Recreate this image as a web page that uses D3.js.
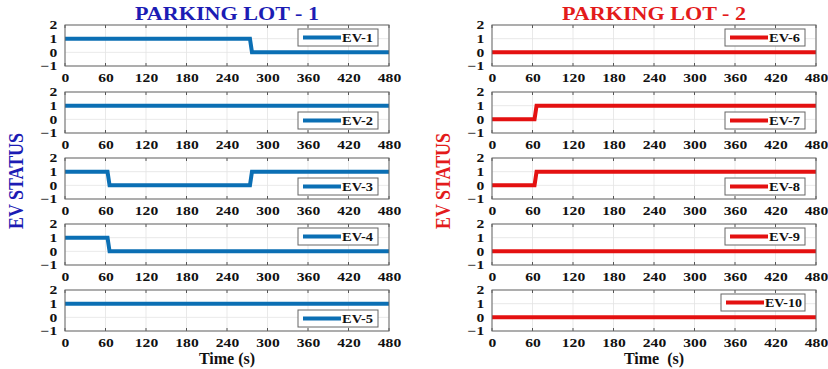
<!DOCTYPE html>
<html>
<head>
<meta charset="utf-8">
<script src="https://cdn.jsdelivr.net/npm/d3@7/dist/d3.min.js"></script>
<style>
  body { margin: 0; background: #fff; }
  text { font-family: "Liberation Serif", "Times New Roman", serif; font-weight: bold; }
</style>
</head>
<body>
<svg id="mainsvg" width="828" height="369"></svg>
<script>
  // time ticks and status ticks
  const timeTicks = [0, 60, 120, 180, 240, 300, 360, 420, 480];
  const statusTicks = [-1, 0, 1, 2];

  // parking lot 1 : [time, status] points
  const lot1Names = ['EV-1', 'EV-2', 'EV-3', 'EV-4', 'EV-5'];
  const lot1Series = [
    [[0, 1], [274, 1], [277, 0], [480, 0]],
    [[0, 1], [480, 1]],
    [[0, 1], [63, 1], [66, 0], [274, 0], [277, 1], [480, 1]],
    [[0, 1], [63, 1], [66, 0], [480, 0]],
    [[0, 1], [480, 1]]
  ];
  const lot1LegendPos = ['top', 'bottom', 'bottom', 'top', 'bottom'];

  // parking lot 2
  const lot2Names = ['EV-6', 'EV-7', 'EV-8', 'EV-9', 'EV-10'];
  const lot2Series = [
    [[0, 0], [480, 0]],
    [[0, 0], [63, 0], [66, 1], [480, 1]],
    [[0, 0], [63, 0], [66, 1], [480, 1]],
    [[0, 0], [480, 0]],
    [[0, 0], [480, 0]]
  ];
  const lot2LegendPos = ['top', 'bottom', 'bottom', 'top', 'top'];

  const svg = d3.select('#mainsvg');
  const panelW = 324, panelH = 41;
  const panelTops = [25, 92, 158, 224, 290];

  const x = d3.scaleLinear().domain([0, 480]).range([0, panelW]);
  const y = d3.scaleLinear().domain([-1, 2]).range([panelH, 0]);
  const line = d3.line().x(d => x(d[0])).y(d => y(d[1]));

  function drawLot(left, names, series, legendPos, color, title, titleColor, timeLabel) {
    svg.append('text')
      .attr('x', left + panelW / 2).attr('y', 20)
      .attr('text-anchor', 'middle').attr('font-size', 18)
      .attr('textLength', 184).attr('lengthAdjust', 'spacingAndGlyphs')
      .attr('fill', titleColor).text(title);

    svg.append('text')
      .attr('transform', `translate(${left - 42},181) rotate(-90)`)
      .attr('text-anchor', 'middle').attr('font-size', 21)
      .attr('textLength', 96).attr('lengthAdjust', 'spacingAndGlyphs')
      .attr('fill', titleColor).text('EV STATUS');

    names.forEach((name, i) => {
      const g = svg.append('g').attr('transform', `translate(${left},${panelTops[i]})`);

      // grid
      g.selectAll('.gx').data(timeTicks).join('line')
        .attr('x1', d => x(d)).attr('x2', d => x(d))
        .attr('y1', 0).attr('y2', panelH)
        .attr('stroke', '#e3e3e3').attr('stroke-width', 0.8);
      g.selectAll('.gy').data(statusTicks).join('line')
        .attr('x1', 0).attr('x2', panelW)
        .attr('y1', d => y(d)).attr('y2', d => y(d))
        .attr('stroke', '#e3e3e3').attr('stroke-width', 0.8);

      // axes (labels are wide, short glyphs in the original)
      const xa = g.append('g').attr('transform', `translate(0,${panelH})`)
        .call(d3.axisBottom(x).tickValues(timeTicks).tickSize(0).tickPadding(7));
      const ya = g.append('g')
        .call(d3.axisLeft(y).tickValues(statusTicks).tickFormat(d3.format('d'))
          .tickSize(0).tickPadding(6));
      [xa, ya].forEach(a => {
        a.select('.domain').remove();
        a.selectAll('text').style('font-size', '12px').attr('fill', '#111')
          .attr('transform', 'scale(1.3,1)');
      });

      // small inward ticks on top and bottom
      g.selectAll('.tk').data(timeTicks).join('line')
        .attr('x1', d => x(d)).attr('x2', d => x(d))
        .attr('y1', panelH).attr('y2', panelH - 3)
        .attr('stroke', '#555');
      g.selectAll('.tt').data(timeTicks).join('line')
        .attr('x1', d => x(d)).attr('x2', d => x(d))
        .attr('y1', 0).attr('y2', 3)
        .attr('stroke', '#555');

      g.append('path').datum(series[i])
        .attr('d', line).attr('fill', 'none')
        .attr('stroke', color).attr('stroke-width', 4);

      g.append('rect').attr('width', panelW).attr('height', panelH)
        .attr('fill', 'none').attr('stroke', '#666').attr('stroke-width', 1);

      // legend
      const lw = name.length > 4 ? 84 : 80, lh = 17;
      const lx = panelW - lw - 11;
      const ly = legendPos[i] === 'top' ? 4 : panelH - lh - 4;
      const lg = g.append('g').attr('transform', `translate(${lx},${ly})`);
      lg.append('rect').attr('width', lw).attr('height', lh)
        .attr('fill', '#fff').attr('stroke', '#666').attr('stroke-width', 1);
      lg.append('line').attr('x1', 5).attr('x2', 43)
        .attr('y1', lh / 2).attr('y2', lh / 2)
        .attr('stroke', color).attr('stroke-width', 4);
      lg.append('text').attr('x', 44).attr('y', lh / 2 + 4)
        .attr('font-size', 11.5)
        .attr('textLength', name.length > 4 ? 37 : 31).attr('lengthAdjust', 'spacingAndGlyphs')
        .attr('fill', '#111').text(name);
    });

    svg.append('text')
      .attr('x', left + panelW / 2).attr('y', 364)
      .attr('text-anchor', 'middle').attr('font-size', 16)
      .attr('fill', '#111').attr('xml:space', 'preserve')
      .text(timeLabel);
  }

  drawLot(65, lot1Names, lot1Series, lot1LegendPos, '#0b6fb4', 'PARKING LOT - 1', '#1c1cb4', 'Time (s)');
  drawLot(492, lot2Names, lot2Series, lot2LegendPos, '#e41111', 'PARKING LOT - 2', '#e31b1b', 'Time  (s)');
</script>
</body>
</html>
